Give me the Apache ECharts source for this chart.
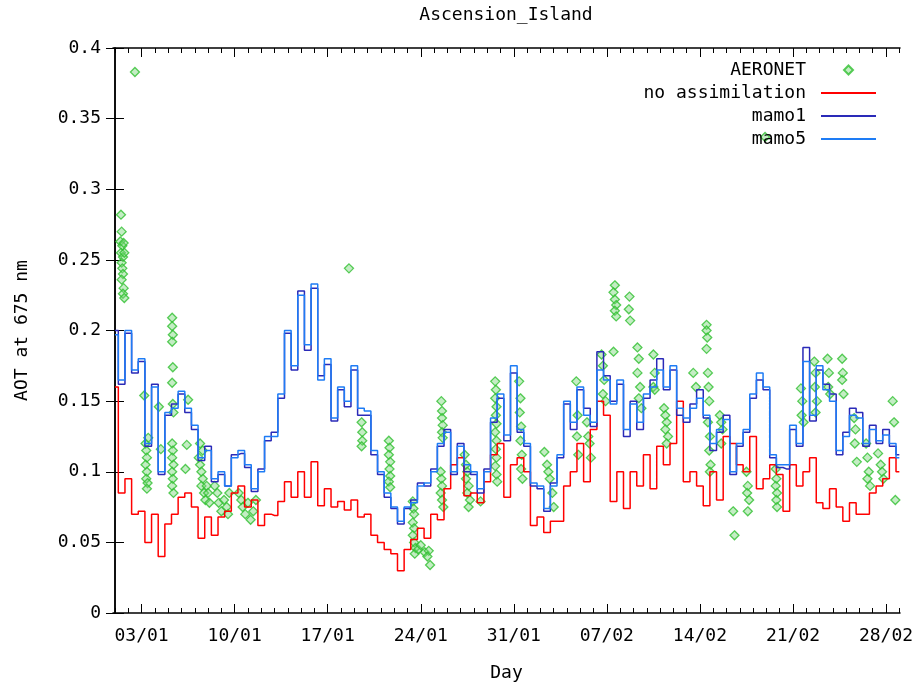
<!DOCTYPE html>
<html><head><meta charset="utf-8">
<script src="https://cdn.jsdelivr.net/npm/echarts@6/dist/echarts.min.js"></script>
<style>html,body{margin:0;padding:0;background:#fff}#c{width:921px;height:690px}</style>
</head><body><div id="c"></div>
<script>
// Model time grid: day 0 = 01/01 00:00, one value every half day
const START_DAY = 0;
const STEP_DAYS = 0.5;

const noAssimilation = [
0.16,0.085,0.095,0.07,0.072,0.05,0.07,0.04,0.063,0.07,
0.082,0.085,0.075,0.053,0.068,0.055,0.068,0.072,0.085,0.09,
0.075,0.08,0.062,0.07,0.069,0.079,0.093,0.082,0.1,0.082,
0.107,0.076,0.088,0.075,0.079,0.073,0.08,0.068,0.07,0.055,
0.05,0.045,0.042,0.03,0.045,0.052,0.06,0.053,0.07,0.066,
0.088,0.105,0.11,0.083,0.085,0.078,0.093,0.112,0.12,0.082,
0.105,0.11,0.1,0.062,0.068,0.057,0.065,0.065,0.09,0.1,
0.12,0.093,0.13,0.15,0.14,0.079,0.1,0.074,0.1,0.09,
0.112,0.088,0.118,0.105,0.12,0.15,0.093,0.1,0.09,0.076,
0.1,0.08,0.125,0.12,0.105,0.1,0.125,0.088,0.095,0.105,
0.098,0.072,0.105,0.09,0.1,0.11,0.078,0.074,0.088,0.075,
0.065,0.078,0.07,0.07,0.085,0.09,0.095,0.11,0.1
];

const mamo1 = [
0.2,0.162,0.198,0.17,0.178,0.118,0.162,0.098,0.14,0.148,
0.155,0.142,0.13,0.108,0.118,0.093,0.098,0.09,0.112,0.113,
0.103,0.086,0.102,0.122,0.128,0.152,0.198,0.172,0.228,0.186,
0.23,0.168,0.176,0.136,0.158,0.146,0.172,0.14,0.14,0.112,
0.098,0.082,0.074,0.063,0.074,0.08,0.092,0.09,0.102,0.118,
0.13,0.098,0.12,0.1,0.098,0.085,0.102,0.135,0.152,0.122,
0.17,0.128,0.118,0.09,0.088,0.072,0.092,0.11,0.148,0.13,
0.158,0.145,0.132,0.185,0.168,0.15,0.162,0.125,0.15,0.13,
0.152,0.165,0.18,0.158,0.172,0.14,0.135,0.148,0.158,0.138,
0.115,0.128,0.14,0.098,0.118,0.128,0.152,0.165,0.158,0.11,
0.103,0.102,0.13,0.118,0.188,0.136,0.172,0.162,0.155,0.112,
0.128,0.145,0.142,0.118,0.133,0.12,0.13,0.118,0.112
];

const mamo5 = [
0.197,0.165,0.2,0.172,0.18,0.12,0.16,0.1,0.142,0.145,
0.157,0.145,0.133,0.11,0.115,0.095,0.1,0.09,0.11,0.115,
0.105,0.088,0.1,0.125,0.125,0.155,0.2,0.175,0.225,0.19,
0.233,0.165,0.18,0.138,0.16,0.15,0.175,0.145,0.143,0.115,
0.1,0.085,0.075,0.065,0.075,0.078,0.09,0.092,0.1,0.12,
0.128,0.1,0.118,0.105,0.1,0.088,0.1,0.138,0.155,0.126,
0.175,0.13,0.12,0.092,0.09,0.074,0.09,0.112,0.15,0.135,
0.16,0.14,0.135,0.172,0.165,0.148,0.165,0.13,0.148,0.135,
0.155,0.16,0.172,0.16,0.175,0.145,0.138,0.145,0.152,0.14,
0.12,0.13,0.137,0.1,0.12,0.13,0.155,0.17,0.16,0.112,
0.105,0.105,0.133,0.12,0.178,0.14,0.175,0.158,0.15,0.115,
0.125,0.14,0.138,0.12,0.13,0.122,0.126,0.12,0.11
];

// AERONET observations: [day, AOT]
const aeronet = [
[0.45,0.282],[0.5,0.27],[0.4,0.263],[0.55,0.26],[0.45,0.255],[0.6,0.252],[0.5,0.248],[0.55,0.244],[0.6,0.24],[0.5,0.236],[0.65,0.23],[0.6,0.226],[0.7,0.223],[0.65,0.262],[0.7,0.255],
[1.5,0.383],
[2.2,0.154],[2.3,0.12],[2.35,0.115],[2.4,0.11],[2.3,0.105],[2.4,0.1],[2.35,0.095],[2.45,0.092],[2.4,0.088],[2.5,0.124],
[3.3,0.146],[3.45,0.116],
[4.3,0.209],[4.3,0.203],[4.35,0.197],[4.3,0.192],[4.35,0.174],[4.3,0.163],[4.35,0.148],[4.4,0.142],[4.3,0.12],[4.35,0.115],[4.3,0.11],[4.4,0.105],[4.3,0.1],[4.35,0.095],[4.3,0.09],[4.4,0.085],
[5.5,0.151],[5.4,0.119],[5.3,0.102],
[6.3,0.11],[6.4,0.105],[6.5,0.1],[6.6,0.095],[6.5,0.09],[6.7,0.085],[6.8,0.08],[6.6,0.115],[6.9,0.09],[7.0,0.085],[7.1,0.078],[6.4,0.12],
[7.5,0.09],[7.7,0.085],[7.8,0.078],[8.0,0.072],[8.2,0.08],[8.4,0.075],[8.6,0.085],[8.5,0.07],
[9.3,0.085],[9.5,0.08],[9.6,0.075],[9.8,0.07],[10.0,0.078],[10.2,0.066],[10.4,0.072],[10.6,0.08],
[17.6,0.244],
[18.55,0.135],[18.6,0.128],[18.6,0.122],[18.55,0.118],
[20.6,0.122],[20.65,0.117],[20.6,0.112],[20.7,0.107],[20.65,0.102],[20.7,0.097],[20.6,0.093],[20.7,0.089],
[22.4,0.079],[22.45,0.074],[22.5,0.07],[22.4,0.064],[22.5,0.06],[22.4,0.055],[22.5,0.05],[22.6,0.046],[22.55,0.042],[22.8,0.045],[23.0,0.048],
[23.3,0.043],[23.6,0.044],[23.7,0.034],[23.5,0.04],
[24.55,0.15],[24.6,0.143],[24.6,0.138],[24.65,0.133],[24.6,0.128],[24.65,0.124],[24.5,0.1],[24.55,0.095],[24.6,0.09],[24.5,0.085],[24.6,0.08],[24.7,0.075],
[26.3,0.112],[26.4,0.105],[26.5,0.1],[26.4,0.095],[26.6,0.09],[26.5,0.085],[26.7,0.08],[26.6,0.075],
[27.5,0.079],
[28.6,0.164],[28.65,0.158],[28.6,0.152],[28.7,0.146],[28.65,0.14],[28.7,0.134],[28.6,0.128],[28.7,0.122],[28.65,0.116],[28.7,0.11],[28.6,0.104],[28.7,0.098],[28.75,0.093],
[30.4,0.164],[30.5,0.152],[30.45,0.142],[30.55,0.132],[30.5,0.122],[30.6,0.112],[30.55,0.102],[30.65,0.095],
[32.3,0.114],[32.5,0.105],[32.6,0.1],[32.7,0.095],[32.9,0.085],[33.0,0.075],
[34.7,0.164],[34.8,0.14],[34.75,0.125],[34.85,0.112],
[35.5,0.135],[35.6,0.125],[35.7,0.12],[35.8,0.11],
[36.6,0.183],[36.7,0.175],[36.8,0.165],[36.7,0.155],[36.9,0.15],
[37.6,0.232],[37.5,0.227],[37.6,0.222],[37.7,0.218],[37.6,0.214],[37.7,0.21],[37.5,0.185],
[38.7,0.224],[38.65,0.215],[38.75,0.207],
[39.3,0.188],[39.4,0.18],[39.3,0.17],[39.5,0.16],[39.4,0.152],[39.6,0.145],
[40.5,0.183],[40.6,0.17],[40.5,0.16],[40.6,0.158],
[41.3,0.145],[41.4,0.14],[41.5,0.135],[41.4,0.13],[41.6,0.125],[41.5,0.12],
[43.5,0.17],[43.7,0.16],
[44.5,0.204],[44.5,0.2],[44.55,0.195],[44.5,0.187],
[44.6,0.17],[44.65,0.16],[44.7,0.15],[44.6,0.135],[44.75,0.125],[44.7,0.115],[44.8,0.105],[44.75,0.1],
[45.5,0.14],[45.6,0.135],[45.7,0.13],[45.6,0.12],
[46.5,0.072],[46.6,0.055],
[47.5,0.1],[47.6,0.09],[47.55,0.085],[47.7,0.08],[47.6,0.072],
[48.9,0.337],
[49.7,0.102],[49.75,0.095],[49.7,0.09],[49.8,0.085],[49.75,0.08],[49.8,0.075],
[51.6,0.159],[51.7,0.15],[51.65,0.14],[51.8,0.135],
[52.6,0.178],[52.7,0.17],[52.65,0.16],[52.8,0.15],[52.7,0.142],
[53.6,0.18],[53.7,0.17],[53.65,0.16],[53.8,0.155],
[54.7,0.18],[54.75,0.17],[54.7,0.165],[54.8,0.155],
[55.6,0.138],[55.7,0.13],[55.65,0.12],[55.8,0.107],
[56.5,0.12],[56.6,0.11],[56.7,0.1],[56.6,0.095],[56.8,0.09],
[57.4,0.113],[57.6,0.105],[57.7,0.1],[57.8,0.095],
[58.5,0.15],[58.6,0.135],[58.7,0.08]
];

const tickDays = [2, 9, 16, 23, 30, 37, 44, 51, 58];
const tickLabels = ['03/01','10/01','17/01','24/01','31/01','07/02','14/02','21/02','28/02'];
const minorTickDays = Array.from({length: 60}, (_, i) => i);

const FONT = 'DejaVu Sans Mono';
const FS = 18;

function toPairs(arr) { return arr.map((v, i) => [START_DAY + i * STEP_DAYS, v]); }

const X_MIN = -0.15, X_MAX = 59.05;

function xAx(pos, ticks, len, showLine, showLabel) {
  return {
    type: 'value', min: X_MIN, max: X_MAX, position: pos,
    axisLine: { show: showLine, onZero: false, lineStyle: { color: '#000', width: 1.5 } },
    axisTick: { show: true, inside: true, length: len, customValues: ticks, lineStyle: { color: '#000', width: 1 } },
    axisLabel: showLabel ? {
      customValues: tickDays, margin: 14, color: '#000', fontFamily: FONT, fontSize: FS,
      formatter: v => tickLabels[tickDays.indexOf(Math.round(v))] || ''
    } : { show: false },
    splitLine: { show: false }
  };
}

const chart = echarts.init(document.getElementById('c'), null, { renderer: 'canvas' });

function leg(name, top, w, h, gap, right, hideSymbol) {
  const l = { data: [name], right: right, top: top, orient: 'vertical', align: 'right', padding: 0,
    itemWidth: w, itemHeight: h, symbolKeepAspect: true, selectedMode: false,
    textStyle: { color: '#000', fontFamily: FONT, fontSize: FS, lineHeight: 20, padding: [0, gap, 0, 0] } };
  if (hideSymbol) l.itemStyle = { color: 'rgba(0,0,0,0)', borderColor: 'rgba(0,0,0,0)', borderWidth: 0 };
  return l;
}

const xAxes = [
  xAx('bottom', tickDays, 9, true, true),
  xAx('bottom', minorTickDays, 5, false, false),
  xAx('top', tickDays, 9, true, false),
  xAx('top', minorTickDays, 5, false, false)
];
xAxes[0].name = 'Day';
xAxes[0].nameLocation = 'middle';
xAxes[0].nameGap = 51;
xAxes[0].nameTextStyle = { color: '#000', fontFamily: FONT, fontSize: FS };

chart.setOption({
  animation: false,
  backgroundColor: '#fff',
  title: { text: 'Ascension_Island', left: 506, textAlign: 'center', top: 6, padding: 0,
    textStyle: { color: '#000', fontFamily: FONT, fontSize: FS, fontWeight: 'normal' } },
  grid: { left: 113, right: 21, top: 48, bottom: 77, containLabel: false },
  legend: [
    leg('AERONET', 60, 9, 9, 33, 67, false),
    leg('no assimilation', 83, 55, 14, 10, 44, true),
    leg('mamo1', 106, 55, 14, 10, 44, true),
    leg('mamo5', 129, 55, 14, 10, 44, true)
  ],
  xAxis: xAxes,
  yAxis: [
    { type: 'value', min: 0, max: 0.4, interval: 0.05, position: 'left',
      axisLine: { show: true, lineStyle: { color: '#000', width: 1.5 } },
      axisTick: { inside: true, length: 9, lineStyle: { color: '#000' } },
      axisLabel: { margin: 12, color: '#000', fontFamily: FONT, fontSize: FS },
      splitLine: { show: false },
      name: 'AOT at 675 nm', nameLocation: 'middle', nameGap: 82, nameRotate: 90,
      nameTextStyle: { color: '#000', fontFamily: FONT, fontSize: FS } },
    { type: 'value', min: 0, max: 0.4, interval: 0.05, position: 'right',
      axisLine: { show: true, lineStyle: { color: '#000', width: 1.5 } },
      axisTick: { inside: true, length: 9, lineStyle: { color: '#000' } },
      axisLabel: { show: false }, splitLine: { show: false } }
  ],
  series: [
    { name: 'AERONET', type: 'scatter', data: aeronet, symbol: 'diamond', symbolSize: 9,
      itemStyle: { color: 'rgba(120,215,120,0.55)', borderColor: '#2fbf2f', borderWidth: 1.3 } },
    { name: 'no assimilation', type: 'line', step: 'middle', data: toPairs(noAssimilation), symbol: 'none',
      lineStyle: { color: '#ff0000', width: 1.5 }, itemStyle: { color: '#ff0000' } },
    { name: 'mamo1', type: 'line', step: 'middle', data: toPairs(mamo1), symbol: 'none',
      lineStyle: { color: '#2a2ab8', width: 1.5 }, itemStyle: { color: '#2a2ab8' } },
    { name: 'mamo5', type: 'line', step: 'middle', data: toPairs(mamo5), symbol: 'none',
      lineStyle: { color: '#1e7cf5', width: 1.5 }, itemStyle: { color: '#1e7cf5' } }
  ]
});
</script></body></html>
